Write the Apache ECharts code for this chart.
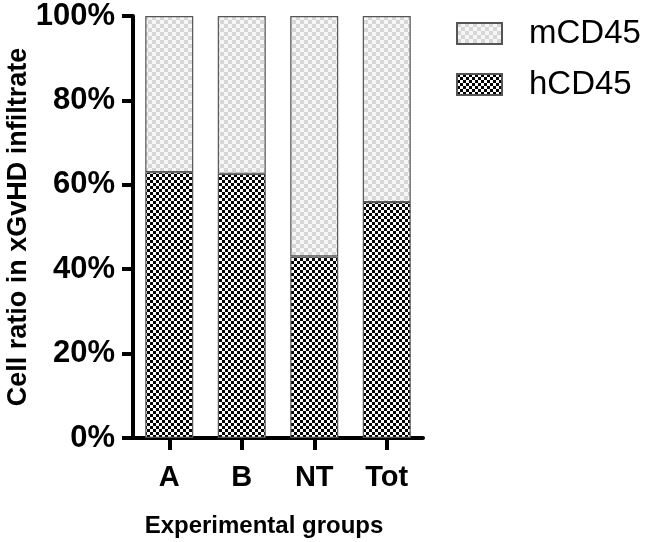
<!DOCTYPE html>
<html>
<head>
<meta charset="utf-8">
<script src="https://cdn.jsdelivr.net/npm/echarts@6/dist/echarts.min.js"></script>
<style>
  html, body { margin: 0; padding: 0; background: #fff; }
  #chart { width: 650px; height: 542px; }
</style>
</head>
<body>
<div id="chart"></div>
<script>
const groups = ['A', 'B', 'NT', 'Tot'];
const hCD45 = [63, 62.6, 43, 55.9];
const mCD45 = [37, 37.4, 57, 44.1];

// checkerboard fills, like the prism patterns
function checker(size, dark, light) {
  const c = document.createElement('canvas');
  c.width = size * 2;
  c.height = size * 2;
  const ctx = c.getContext('2d');
  ctx.fillStyle = light;
  ctx.fillRect(0, 0, size * 2, size * 2);
  ctx.fillStyle = dark;
  ctx.fillRect(0, 0, size, size);
  ctx.fillRect(size, size, size, size);
  return c;
}

const chart = echarts.init(document.getElementById('chart'), null, { renderer: 'canvas' });
const font = 'Liberation Sans, Arial, sans-serif';

const option = {
  backgroundColor: '#fff',
  animation: false,
  grid: { left: 133, top: 16, width: 290, height: 422, containLabel: false, outerBoundsMode: 'none' },
  legend: {
    orient: 'vertical',
    left: 456,
    top: 17,
    padding: 0,
    icon: 'rect',
    itemWidth: 45,
    itemHeight: 21,
    itemGap: 18,
    data: ['mCD45', 'hCD45'],
    textStyle: { fontFamily: font, fontSize: 33, lineHeight: 22, color: '#000', padding: [0, 0, 0, 22] }
  },
  xAxis: {
    type: 'category',
    data: groups,
    name: 'Experimental groups',
    nameLocation: 'middle',
    nameGap: 76,
    nameTextStyle: { fontFamily: font, fontSize: 24, fontWeight: 'bold', color: '#000', padding: [0, 28, 0, 0] },
    axisLine: { show: true, lineStyle: { color: '#000', width: 4 } },
    axisTick: { show: true, alignWithLabel: true, length: 12, lineStyle: { width: 4, color: '#000' } },
    axisLabel: { margin: 25, fontFamily: font, fontSize: 29, fontWeight: 'bold', color: '#000' }
  },
  yAxis: {
    type: 'value',
    min: 0,
    max: 100,
    interval: 20,
    name: 'Cell ratio in xGvHD infiltrate',
    nameLocation: 'middle',
    nameGap: 101,
    nameTextStyle: { fontFamily: font, fontSize: 27, fontWeight: 'bold', color: '#000' },
    splitLine: { show: false },
    axisLine: { show: true, lineStyle: { color: '#000', width: 4 } },
    axisTick: { show: true, length: 11, lineStyle: { width: 4, color: '#000' } },
    axisLabel: { margin: 18, formatter: '{value}%', fontFamily: font, fontSize: 31, fontWeight: 'bold', color: '#000' }
  },
  series: [
    {
      name: 'hCD45',
      type: 'bar',
      stack: 'total',
      barWidth: 48,
      data: hCD45,
      itemStyle: {
        color: { image: checker(3, '#000', '#fff'), repeat: 'repeat' },
        borderColor: '#555',
        borderWidth: 1.2
      }
    },
    {
      name: 'mCD45',
      type: 'bar',
      stack: 'total',
      barWidth: 48,
      data: mCD45,
      itemStyle: {
        color: { image: checker(4, '#d6d6d6', '#f6f6f6'), repeat: 'repeat' },
        borderColor: '#555',
        borderWidth: 1.2
      }
    }
  ]
};

chart.setOption(option);
</script>
</body>
</html>
